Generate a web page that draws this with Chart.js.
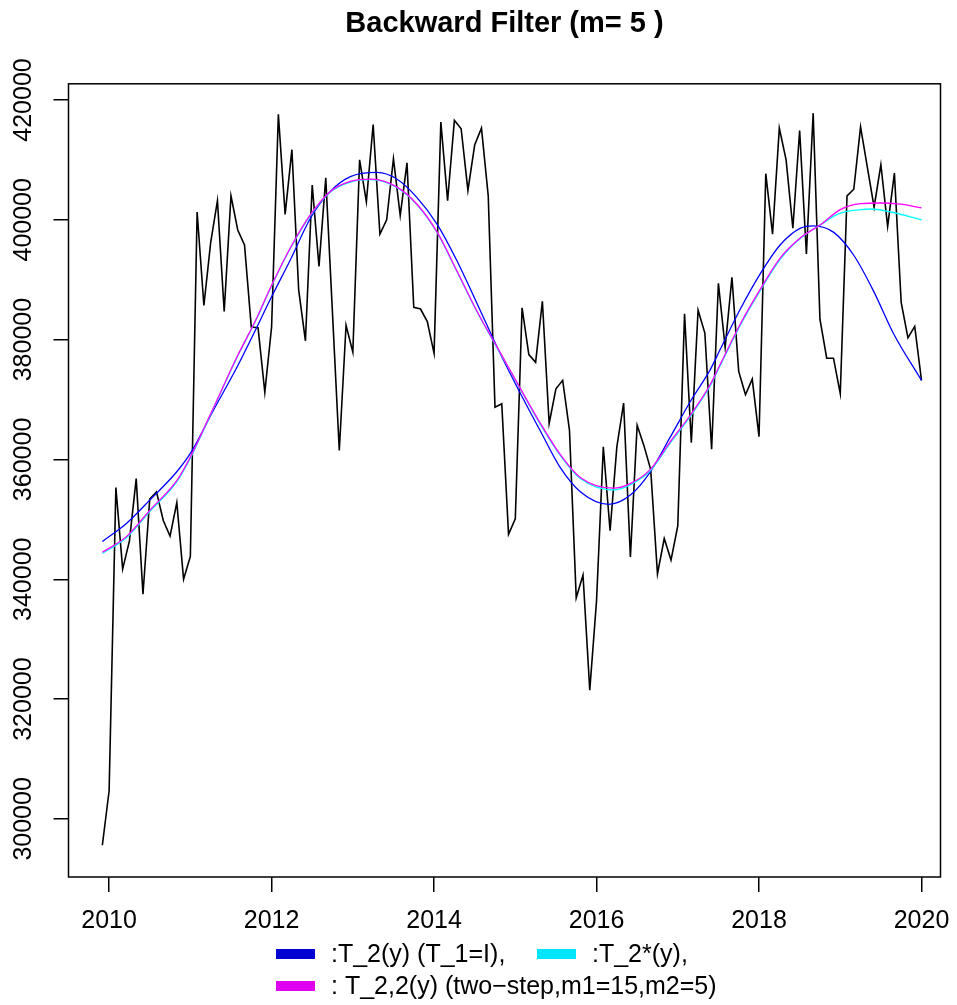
<!DOCTYPE html>
<html>
<head>
<meta charset="utf-8">
<script src="https://cdn.jsdelivr.net/npm/chart.js@4.4.1/dist/chart.umd.min.js"></script>
<style>
  html, body { margin: 0; padding: 0; background: #fff; }
  #wrap { width: 957px; height: 1005px; }
</style>
</head>
<body>
<div id="wrap"><canvas id="c" width="957" height="1005"></canvas></div>
<script>
// ---- data ----
const titleText = 'Backward Filter (m= 5 )';
const obsStartYear = 2009 + 11 / 12; // first observation: Dec 2009, monthly
const obsValues = [
  295600, 304700, 355300, 341700, 346400, 356800, 337500, 353400, 354600, 349800,
  347200, 352800, 340000, 343800, 401300, 385700, 396200, 403200, 384700, 404000,
  398300, 395800, 382100, 382000, 371200, 382100, 417600, 400900, 411700, 388300,
  379800, 405800, 392200, 407000, 384300, 361500, 382400, 377900, 410000, 403000,
  415900, 397600, 400000, 410200, 400700, 409500, 385400, 385100, 383000, 377700,
  416300, 403200, 416600, 415200, 404900, 412500, 415300, 404000, 368700, 369300,
  347500, 350100, 385300, 377500, 376200, 386400, 366000, 371800, 373200, 364900,
  336900, 340700, 321500, 336400, 362100, 348100, 362100, 369400, 343700, 365700,
  362300, 358300, 340900, 346800, 343200, 348900, 384300, 362800, 384900, 381100,
  361700, 389400, 378700, 390400, 374700, 370800, 373400, 363800, 407700, 397600,
  415300, 410000, 398600, 414900, 394300, 417800, 383400, 376900, 376900, 371000,
  404000, 405100, 415500, 408800, 402100, 409200, 398900, 407800, 386200, 380300,
  382200, 373200
];

const blueYears = [2009.917, 2010.22, 2010.50, 2010.83, 2011.00, 2011.28, 2011.57, 2011.82, 2011.98, 2012.23,
  2012.48, 2012.72, 2012.97, 2013.30, 2013.54, 2013.79, 2014.04, 2014.28, 2014.53, 2014.82,
  2015.06, 2015.31, 2015.55, 2015.80, 2016.15, 2016.42, 2016.66, 2016.91, 2017.16, 2017.40,
  2017.52, 2017.77, 2018.02, 2018.26, 2018.51, 2018.67, 2018.92, 2019.17, 2019.41, 2019.66, 2020.0];
const blueValues = [346300, 349400, 353200, 357900, 361000, 368100, 375300, 382100, 386600, 393300,
  400300, 404700, 407200, 407900, 406800, 403700, 399200, 393200, 386000, 377500,
  371100, 364700, 358700, 354600, 352500, 354100, 357900, 363800, 369800, 375000,
  378300, 385100, 391100, 395800, 398600, 399000, 397900, 394000, 388100, 380900, 373200];

const cyanYears = [2009.917, 2010.22, 2010.50, 2010.83, 2011.00, 2011.28, 2011.57, 2011.82, 2011.98, 2012.23,
  2012.48, 2012.72, 2012.97, 2013.23, 2013.54, 2013.79, 2014.04, 2014.28, 2014.53, 2014.82,
  2015.06, 2015.31, 2015.55, 2015.80, 2016.21, 2016.42, 2016.66, 2016.91, 2017.16, 2017.40,
  2017.52, 2017.77, 2018.02, 2018.26, 2018.51, 2018.76, 2019.00, 2019.25, 2019.37, 2019.62, 2020.0];
const cyanValues = [344300, 347000, 351300, 356200, 360200, 368400, 376900, 383600, 388400, 395200,
  400800, 404600, 406300, 406700, 405400, 402500, 397800, 391400, 384600, 377600,
  371800, 365800, 360700, 356800, 354900, 355800, 358100, 362800, 367300, 372300,
  375600, 382400, 388300, 393400, 396900, 399200, 401100, 401700, 401800, 401300, 400000];

const magentaYears = [2009.917, 2010.22, 2010.50, 2010.83, 2011.00, 2011.28, 2011.57, 2011.82, 2011.98, 2012.23,
  2012.48, 2012.72, 2012.97, 2013.23, 2013.54, 2013.79, 2014.04, 2014.28, 2014.53, 2014.82,
  2015.06, 2015.31, 2015.55, 2015.80, 2016.21, 2016.42, 2016.66, 2016.91, 2017.16, 2017.40,
  2017.52, 2017.77, 2018.02, 2018.26, 2018.51, 2018.76, 2019.00, 2019.25, 2019.49, 2019.74, 2020.0];
const magentaValues = [344500, 347200, 351500, 356400, 360400, 368500, 377000, 383700, 388500, 395300,
  400900, 404700, 406400, 406800, 405500, 402600, 397900, 391500, 384700, 377700,
  371900, 366000, 360900, 357000, 355200, 356000, 358300, 363000, 367500, 372500,
  375800, 382600, 388500, 393600, 397000, 399200, 401700, 402700, 402800, 402600, 402000];

const seriesLabels = [
  'y',
  ':T_2(y) (T_1=I),',
  ':T_2*(y),',
  ': T_2,2(y) (two\u2212step,m1=15,m2=5)'
];
const xTickValues = [2010, 2012, 2014, 2016, 2018, 2020];
const yTickValues = [300000, 320000, 340000, 360000, 380000, 400000, 420000];

// ---- build chart ----
const FONT = '"Liberation Sans", Arial, Helvetica, sans-serif';
const pairs = (xs, ys) => xs.map((x, i) => ({ x: x, y: ys[i] }));
const obsData = obsValues.map((v, i) => ({ x: obsStartYear + i / 12, y: v }));

const legendColors = ['#000000', '#0000D0', '#00E5FF', '#E000F0'];
const legendSlots = [null, { x: 276, y: 954 }, { x: 537, y: 954 }, { x: 276, y: 986 }];

const framePlugin = {
  id: 'frame',
  afterDatasetsDraw(chart) {
    const { ctx, chartArea: a } = chart;
    ctx.save();
    ctx.strokeStyle = '#000';
    ctx.lineWidth = 1.5;
    ctx.strokeRect(a.left, a.top, a.right - a.left, a.bottom - a.top);
    ctx.restore();
  }
};

const legendPlugin = {
  id: 'rLegend',
  afterDraw(chart) {
    const ctx = chart.ctx;
    ctx.save();
    ctx.font = '25px ' + FONT;
    ctx.textBaseline = 'middle';
    ctx.textAlign = 'left';
    chart.data.datasets.forEach((ds, k) => {
      const s = legendSlots[k];
      if (!s) return;
      ctx.fillStyle = legendColors[k];
      ctx.fillRect(s.x, s.y - 5, 39, 10);
      ctx.fillStyle = '#000';
      ctx.fillText(ds.label, s.x + 55, s.y + 1);
    });
    ctx.restore();
  }
};

const commonCurve = { pointRadius: 0, borderWidth: 1.3, fill: false, cubicInterpolationMode: 'monotone' };

new Chart(document.getElementById('c'), {
  type: 'line',
  data: {
    datasets: [
      { label: seriesLabels[0], data: obsData, borderColor: '#000', borderWidth: 1.6, pointRadius: 0, tension: 0, fill: false, order: 4 },
      Object.assign({ label: seriesLabels[1], data: pairs(blueYears, blueValues), borderColor: '#0000FF', order: 3 }, commonCurve),
      Object.assign({ label: seriesLabels[2], data: pairs(cyanYears, cyanValues), borderColor: '#00FFFF', order: 2 }, commonCurve),
      Object.assign({ label: seriesLabels[3], data: pairs(magentaYears, magentaValues), borderColor: '#FF00FF', order: 1 }, commonCurve)
    ]
  },
  options: {
    responsive: false,
    animation: false,
    devicePixelRatio: 1,
    layout: { padding: { top: 0, left: 0, right: 16.5, bottom: 68 } },
    plugins: {
      legend: { display: false },
      tooltip: { enabled: false },
      title: {
        display: true,
        text: titleText,
        fullSize: false,
        color: '#000',
        font: { family: FONT, size: 29, weight: 'bold' },
        padding: { top: 7, bottom: 42 }
      }
    },
    scales: {
      x: {
        type: 'linear',
        min: 2009.5,
        max: 2020.234,
        afterBuildTicks: s => { s.ticks = xTickValues.map(v => ({ value: v })); },
        afterFit: s => { s.height = 60; s.paddingLeft = 0; s.paddingRight = 0; },
        ticks: {
          color: '#000',
          font: { family: FONT, size: 25 },
          padding: 14,
          maxRotation: 0,
          autoSkip: false,
          callback: v => String(v)
        },
        grid: { drawOnChartArea: false, drawTicks: true, tickLength: 15, color: '#000', lineWidth: 1.5 },
        border: { display: false }
      },
      y: {
        type: 'linear',
        min: 290300,
        max: 422700,
        afterBuildTicks: s => { s.ticks = yTickValues.map(v => ({ value: v })); },
        afterFit: s => { s.width = 68.5; s.paddingTop = 0; s.paddingBottom = 0; },
        ticks: {
          color: '#000',
          font: { family: FONT, size: 25 },
          minRotation: 90,
          maxRotation: 90,
          crossAlign: 'center',
          padding: -12,
          autoSkip: false,
          callback: v => String(v)
        },
        grid: { drawOnChartArea: false, drawTicks: true, tickLength: 15, color: '#000', lineWidth: 1.5 },
        border: { display: false }
      }
    }
  },
  plugins: [framePlugin, legendPlugin]
});
</script>
</body>
</html>
